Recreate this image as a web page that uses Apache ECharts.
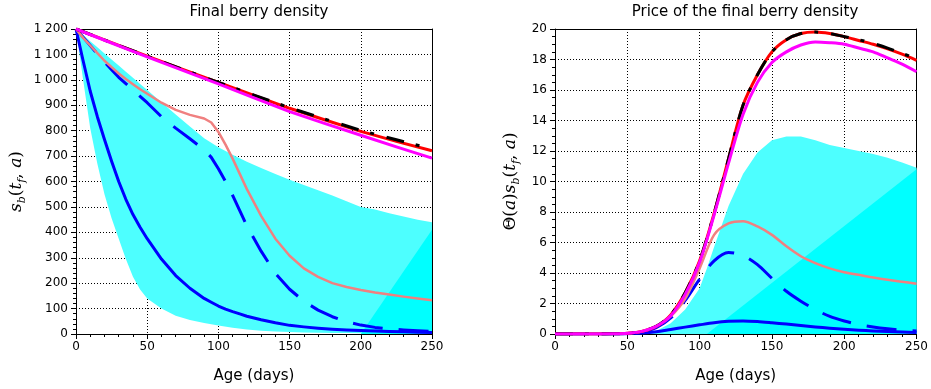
<!DOCTYPE html>
<html>
<head>
<meta charset="utf-8">
<script src="https://cdn.jsdelivr.net/npm/echarts@6/dist/echarts.min.js"></script>
<style>html,body{margin:0;padding:0;background:#fff;}#c{width:931px;height:389px;}</style>
</head>
<body>
<div id="c"></div>
<script>
// ---------- Data ----------
// Left panel: final berry density s_b(t_f, a)
const ageCoarse = [0, 25, 50, 75, 100, 125, 150, 175, 200, 225, 250];
const leftBlack   = [1200, 1146, 1093, 1041, 990, 940, 890, 845, 801, 764, 728];
const leftRed     = [1200, 1146, 1093, 1041, 990, 939, 888, 842, 797, 758, 721];
const leftMagenta = [1200, 1145, 1090, 1037, 984, 929, 875, 828, 782, 736, 692];

const ageL = [0, 5, 10, 15, 20, 25, 30, 35, 40, 45, 50, 60, 70, 80, 90, 95, 100, 105, 110, 115, 120, 130, 140, 150, 160, 170, 180, 190, 200, 210, 220, 230, 240, 250];
const leftBlueSolid  = [1200, 1075, 955, 855, 765, 680, 600, 530, 470, 420, 375, 295, 230, 180, 140, 125, 110, 98, 88, 79, 70, 56, 44, 34, 28, 23, 19, 16, 14, 12, 10, 8.5, 7, 6];
const leftBlueDashed = [1200, 1168, 1135, 1102, 1070, 1040, 1010, 985, 960, 935, 910, 855, 810, 768, 725, 695, 650, 600, 545, 485, 425, 326, 238, 176, 129, 94, 68, 48, 35, 26, 20, 16, 13, 10];
const leftPink       = [1200, 1165, 1135, 1105, 1075, 1050, 1025, 1003, 983, 963, 945, 910, 882, 862, 848, 832, 795, 745, 690, 630, 570, 465, 375, 308, 258, 225, 200, 185, 173, 163, 155, 147, 140, 133];

const bandLX     = [0, 5, 10, 15, 20, 25, 30, 35, 40, 45, 50, 60, 70, 80, 90, 100, 110, 120, 130, 140, 150, 160, 170, 180, 190, 200, 210, 220, 230, 240, 250];
const bandLUpper = [1200, 1176, 1152, 1128, 1104, 1080, 1056, 1032, 1008, 984, 960, 912, 864, 816, 770, 735, 705, 678, 653, 630, 607, 586, 566, 545, 522, 500, 490, 475, 462, 450, 440];
const bandLLower = [1200, 1000, 810, 670, 550, 455, 375, 295, 225, 175, 140, 100, 72, 55, 43, 33, 25, 18, 13, 10, 8, 6, 5, 4, 3.5, 3, 2.8, 2.5, 2.3, 2.1, 2];
const triLX  = [200, 250];
const triLTop = [0, 410];

// Right panel: price of the final berry density Θ(a) s_b(t_f, a)
const ageR = [0, 10, 20, 30, 40, 50, 60, 70, 80, 90, 100, 110, 120, 130, 140, 150, 160, 170, 180, 190, 200, 210, 220, 230, 240, 250];
const rightBlack   = [0, 0, 0, 0, 0.01, 0.05, 0.17, 0.5, 1.25, 2.7, 4.8, 7.9, 11.5, 15.0, 17.0, 18.5, 19.3, 19.7, 19.8, 19.7, 19.5, 19.3, 19.05, 18.75, 18.4, 18.05];
const rightRed     = [0, 0, 0, 0, 0.01, 0.05, 0.17, 0.5, 1.25, 2.7, 4.8, 7.9, 11.5, 15.0, 17.0, 18.5, 19.3, 19.7, 19.8, 19.7, 19.5, 19.25, 19.0, 18.7, 18.35, 17.95];
const rightMagenta = [0, 0, 0, 0, 0.01, 0.05, 0.17, 0.5, 1.2, 2.6, 4.7, 7.8, 11.2, 14.4, 16.5, 17.8, 18.5, 18.95, 19.15, 19.1, 19.0, 18.75, 18.5, 18.1, 17.7, 17.2];
const rightPink    = [0, 0, 0, 0, 0.01, 0.05, 0.17, 0.48, 1.15, 2.3, 4.3, 6.5, 7.25, 7.4, 7.05, 6.5, 5.75, 5.1, 4.65, 4.3, 4.05, 3.88, 3.7, 3.55, 3.43, 3.3];
const rightBlueDashed = [0, 0, 0, 0, 0.01, 0.04, 0.14, 0.42, 1.05, 2.2, 3.6, 4.8, 5.35, 5.15, 4.55, 3.65, 2.8, 2.15, 1.6, 1.15, 0.85, 0.62, 0.46, 0.34, 0.25, 0.2];
const rightBlueSolid  = [0, 0, 0, 0, 0.005, 0.02, 0.06, 0.15, 0.3, 0.45, 0.6, 0.74, 0.83, 0.86, 0.82, 0.74, 0.65, 0.55, 0.46, 0.38, 0.31, 0.25, 0.2, 0.16, 0.13, 0.1];

const bandRX     = [55, 60, 70, 80, 90, 100, 105, 110, 120, 130, 140, 150, 160, 170, 180, 190, 200, 210, 220, 230, 240, 250];
const bandRUpper = [0, 0.02, 0.2, 0.7, 1.6, 3.0, 4.3, 5.7, 8.4, 10.5, 11.9, 12.7, 12.95, 12.95, 12.7, 12.4, 12.2, 12.0, 11.8, 11.55, 11.25, 10.9];
const bandRLower = [0, 0, 0, 0, 0, 0, 0, 0, 0, 0, 0, 0, 0, 0, 0, 0, 0, 0, 0, 0, 0, 0];
const triRX  = [105, 250];
const triRTop = [0, 10.8];

// ---------- Chart ----------
const zip = (xs, ys) => xs.map((x, i) => [x, ys[i]]);
const BAND = '#4dffff';
const BRIGHT = '#00ffff';

function bandSeries(ax, xs, up, lo, color, z) {
  return {
    type: 'custom', xAxisIndex: ax, yAxisIndex: ax, z: z, silent: true, clip: true,
    data: zip(xs, up),
    renderItem: function (params, api) {
      if (params.dataIndex !== 0) return null;
      const pts = [];
      for (let i = 0; i < xs.length; i++) pts.push(api.coord([xs[i], up[i]]));
      for (let i = xs.length - 1; i >= 0; i--) pts.push(api.coord([xs[i], lo[i]]));
      return { type: 'polygon', shape: { points: pts }, style: { fill: color } };
    }
  };
}
function triSeries(ax, xs, top, color, z) {
  return {
    type: 'custom', xAxisIndex: ax, yAxisIndex: ax, z: z, silent: true, clip: true,
    data: zip(xs, top),
    renderItem: function (params, api) {
      if (params.dataIndex !== 0) return null;
      const pts = [api.coord([xs[0], top[0]]), api.coord([xs[1], top[1]]), api.coord([xs[1], 0])];
      return { type: 'polygon', shape: { points: pts }, style: { fill: color } };
    }
  };
}
function lineSeries(ax, xs, ys, color, width, type, z, smooth) {
  return {
    type: 'line', xAxisIndex: ax, yAxisIndex: ax, data: zip(xs, ys), showSymbol: false, symbol: 'none',
    smooth: smooth, z: z, silent: true,
    lineStyle: { color: color, width: width, type: type, cap: 'butt', join: 'round' }
  };
}

const blk = '#000';
function xAxisMain(gi) {
  return {
    gridIndex: gi, type: 'value', min: 0, max: 250, interval: 50,
    name: 'Age (days)', nameLocation: 'middle', nameGap: 35,
    nameTextStyle: { fontFamily: 'DejaVu Sans', fontSize: 15, color: blk },
    axisLine: { show: true, onZero: false, lineStyle: { color: blk, width: 1 } },
    axisTick: { show: true, length: 5, lineStyle: { color: blk } },
    minorTick: { show: true, splitNumber: 5, length: 3, lineStyle: { color: blk } },
    axisLabel: { fontFamily: 'DejaVu Sans', fontSize: 12, color: blk, margin: 7 },
    splitLine: { show: true, lineStyle: { color: blk, width: 1, type: [1, 2] } }
  };
}
function xAxisTop(gi) {
  return {
    gridIndex: gi, type: 'value', min: 0, max: 250, position: 'top',
    axisLine: { show: true, onZero: false, lineStyle: { color: blk, width: 1 } },
    axisTick: { show: false }, axisLabel: { show: false }, splitLine: { show: false }
  };
}
function yAxisRight(gi, max) {
  return {
    gridIndex: gi, type: 'value', min: 0, max: max, position: 'right',
    axisLine: { show: true, onZero: false, lineStyle: { color: blk, width: 1 } },
    axisTick: { show: false }, axisLabel: { show: false }, splitLine: { show: false }
  };
}
const richName = {
  m: { fontFamily: 'DejaVu Serif', fontStyle: 'italic', fontSize: 17, color: blk, lineHeight: 22, verticalAlign: 'middle' },
  u: { fontFamily: 'DejaVu Serif', fontSize: 17, color: blk, lineHeight: 22, verticalAlign: 'middle' },
  s: { fontFamily: 'DejaVu Serif', fontStyle: 'italic', fontSize: 11, color: blk, lineHeight: 22, verticalAlign: 'bottom' }
};

const option = {
  animation: false,
  backgroundColor: '#fff',
  title: [
    { text: 'Final berry density', left: 254, top: 0, textAlign: 'center',
      textStyle: { fontFamily: 'DejaVu Sans', fontSize: 15, fontWeight: 'normal', color: blk } },
    { text: 'Price of the final berry density', left: 740, top: 0, textAlign: 'center',
      textStyle: { fontFamily: 'DejaVu Sans', fontSize: 15, fontWeight: 'normal', color: blk } }
  ],
  grid: [
    { left: 76, right: 499, top: 29, bottom: 49 },
    { left: 555, right: 7, top: 29, bottom: 49 }
  ],
  xAxis: [xAxisMain(0), xAxisMain(1), xAxisTop(0), xAxisTop(1)],
  yAxis: [
    {
      gridIndex: 0, type: 'value', min: 0, max: 1200, interval: 100,
      name: '{m|s}{s|b}{u|(}{m|t}{s|f}{u|, }{m|a}{u|)}', nameLocation: 'middle', nameGap: 48, nameRotate: 90,
      nameTextStyle: { rich: richName },
      axisLine: { show: true, onZero: false, lineStyle: { color: blk } },
      axisTick: { show: true, length: 5, lineStyle: { color: blk } },
      minorTick: { show: true, splitNumber: 5, length: 3, lineStyle: { color: blk } },
      axisLabel: { fontFamily: 'DejaVu Sans', fontSize: 12, color: blk, margin: 8,
        formatter: v => String(v).replace(/\B(?=(\d{3})+(?!\d))/g, ' ') },
      splitLine: { show: true, lineStyle: { color: blk, width: 1, type: [1, 2] } }
    },
    {
      gridIndex: 1, type: 'value', min: 0, max: 20, interval: 2,
      name: '{u|Θ(}{m|a}{u|)}{m|s}{s|b}{u|(}{m|t}{s|f}{u|, }{m|a}{u|)}', nameLocation: 'middle', nameGap: 33, nameRotate: 90,
      nameTextStyle: { rich: richName },
      axisLine: { show: true, onZero: false, lineStyle: { color: blk } },
      axisTick: { show: true, length: 5, lineStyle: { color: blk } },
      minorTick: { show: true, splitNumber: 4, length: 3, lineStyle: { color: blk } },
      axisLabel: { fontFamily: 'DejaVu Sans', fontSize: 12, color: blk, margin: 8 },
      splitLine: { show: true, lineStyle: { color: blk, width: 1, type: [1, 2] } }
    },
    yAxisRight(0, 1200), yAxisRight(1, 20)
  ],
  series: [
    bandSeries(0, bandLX, bandLUpper, bandLLower, BAND, 1),
    triSeries(0, triLX, triLTop, BRIGHT, 2),
    lineSeries(0, ageL, leftBlueSolid, '#0000ff', 3, 'solid', 3, false),
    lineSeries(0, ageL, leftBlueDashed, '#0000ff', 3, [30, 16], 4, false),
    lineSeries(0, ageL, leftPink, '#f08080', 2.5, 'solid', 5, false),
    lineSeries(0, ageCoarse, leftRed, '#ff0000', 3, 'solid', 6, false),
    lineSeries(0, ageCoarse, leftBlack, '#000000', 3, [18, 12, 4, 13], 7, false),
    lineSeries(0, ageCoarse, leftMagenta, '#ff00ff', 3, 'solid', 8, false),

    bandSeries(1, bandRX, bandRUpper, bandRLower, BAND, 1),
    triSeries(1, triRX, triRTop, BRIGHT, 2),
    lineSeries(1, ageR, rightBlueSolid, '#0000ff', 3, 'solid', 3, 0.3),
    lineSeries(1, ageR, rightBlueDashed, '#0000ff', 3, [30, 16], 4, 0.3),
    lineSeries(1, ageR, rightPink, '#f08080', 2.5, 'solid', 5, 0.3),
    lineSeries(1, ageR, rightRed, '#ff0000', 3, 'solid', 6, 0.3),
    lineSeries(1, ageR, rightBlack, '#000000', 3, [18, 12, 4, 13], 7, 0.3),
    lineSeries(1, ageR, rightMagenta, '#ff00ff', 3, 'solid', 8, 0.3)
  ]
};
const chart = echarts.init(document.getElementById('c'), null, { renderer: 'canvas' });
chart.setOption(option);
</script>
</body>
</html>
